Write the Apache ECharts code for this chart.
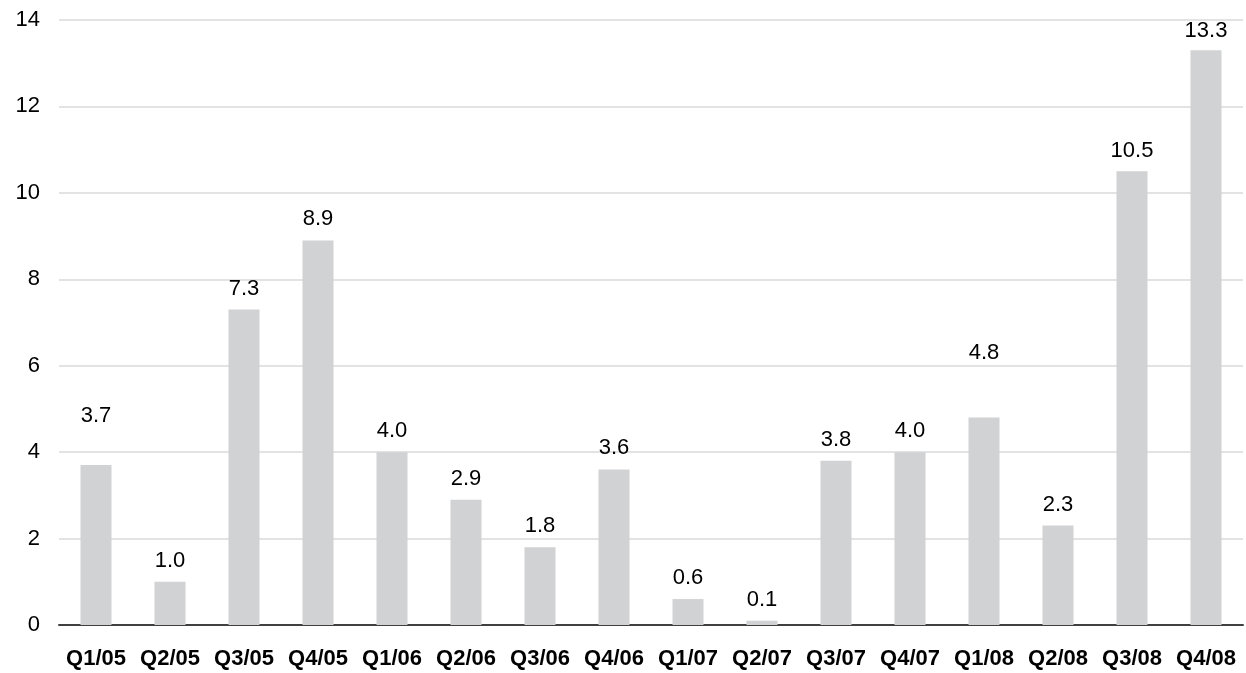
<!DOCTYPE html>
<html>
<head>
<meta charset="utf-8">
<style>
  html, body { margin: 0; padding: 0; background: #ffffff; }
  #chart { width: 1246px; height: 673px; }
</style>
<script src="https://cdn.jsdelivr.net/npm/echarts@6/dist/echarts.min.js"></script>
</head>
<body>
<div id="chart"></div>
<script>
// Quarterly values, Q1/05 to Q4/08
const quarters = ['Q1/05', 'Q2/05', 'Q3/05', 'Q4/05', 'Q1/06', 'Q2/06', 'Q3/06', 'Q4/06',
                  'Q1/07', 'Q2/07', 'Q3/07', 'Q4/07', 'Q1/08', 'Q2/08', 'Q3/08', 'Q4/08'];
const values = [3.7, 1.0, 7.3, 8.9, 4.0, 2.9, 1.8, 3.6, 0.6, 0.1, 3.8, 4.0, 4.8, 2.3, 10.5, 13.3];
// Extra vertical lift (px) of some value labels above their bars
const labelLift = [28, 0, 0, 0, 0, 0, 0, 0, 0, 0, 0, 0, 44, 0, -1, -2];

const fontFamily = '"Liberation Sans", Arial, sans-serif';

const chart = echarts.init(document.getElementById('chart'), null, { renderer: 'canvas' });

chart.setOption({
  animation: false,
  backgroundColor: '#ffffff',
  grid: { left: 59, right: 3, top: 20, bottom: 48, containLabel: false },
  xAxis: {
    type: 'category',
    data: quarters,
    axisLine: { show: true, lineStyle: { color: '#404040', width: 2 } },
    axisTick: { show: false },
    axisLabel: {
      interval: 0,
      margin: 23,
      color: '#000000',
      fontFamily: fontFamily,
      fontWeight: 'bold',
      fontSize: 22
    }
  },
  yAxis: {
    type: 'value',
    min: 0,
    max: 14,
    interval: 2,
    axisLine: { show: false },
    axisTick: { show: false },
    splitLine: { show: true, lineStyle: { color: '#dadada', width: 1.5 } },
    axisLabel: {
      margin: 19,
      color: '#000000',
      fontFamily: fontFamily,
      fontSize: 22
    }
  },
  series: [{
    type: 'bar',
    barWidth: 31,
    itemStyle: { color: '#d1d2d4' },
    data: values.map((v, i) => ({
      value: v,
      label: { offset: [0, -labelLift[i]] }
    })),
    label: {
      show: true,
      position: 'top',
      distance: 10,
      color: '#000000',
      fontFamily: fontFamily,
      fontSize: 22,
      formatter: p => p.value.toFixed(1)
    }
  }]
});
</script>
</body>
</html>
